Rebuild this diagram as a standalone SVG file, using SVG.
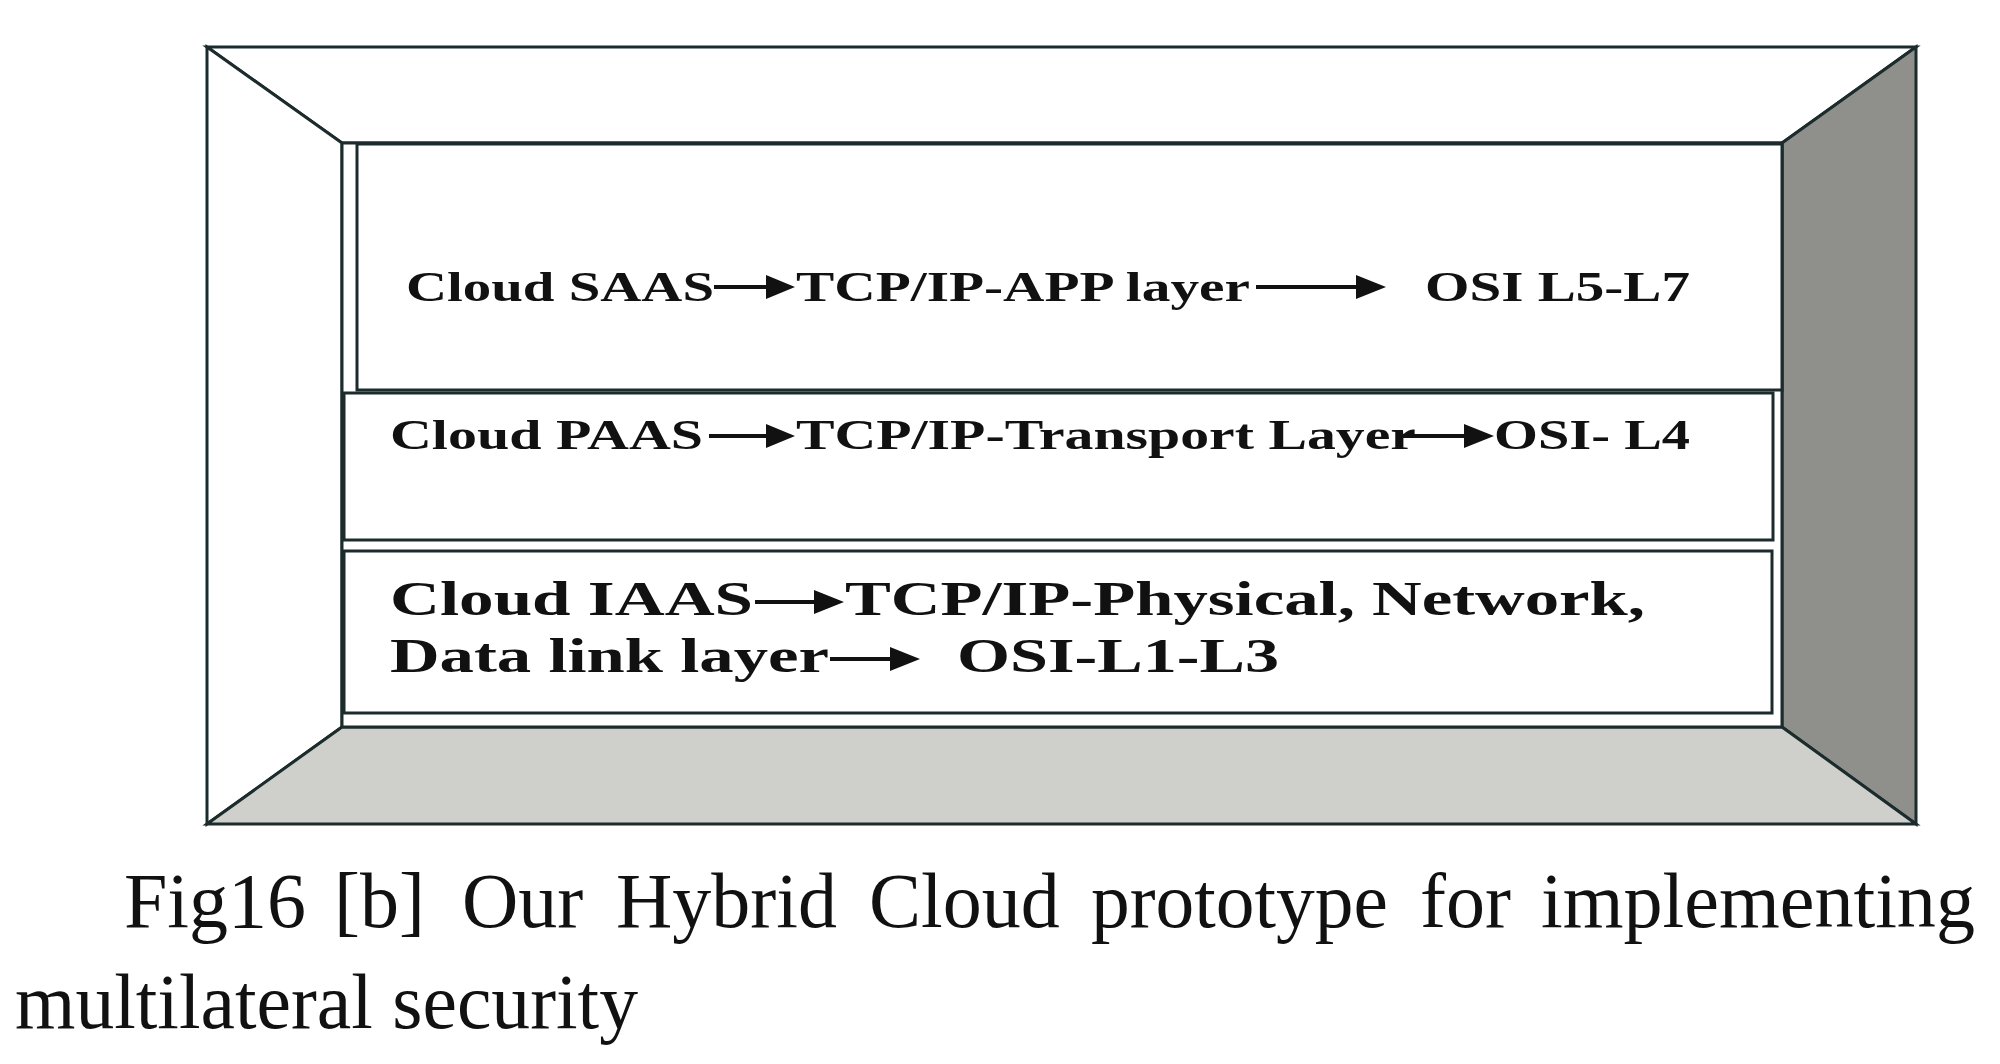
<svg xmlns="http://www.w3.org/2000/svg" width="2000" height="1064" viewBox="0 0 2000 1064">
<defs>
<style>
.edge{stroke:#1c2b2c;stroke-width:3;stroke-linejoin:miter}
.box{fill:#fff;stroke:#1c2b2c;stroke-width:3}
.lbl{font-family:"Liberation Serif","Times New Roman",serif;font-weight:bold;fill:#111;}
.cap{font-family:"Liberation Serif","Times New Roman",serif;font-size:78px;fill:#111;}
.arr{stroke:#111;stroke-width:4;fill:none}
.head{fill:#111}
</style>
</defs>
<rect width="2000" height="1064" fill="#fff"/>
<g id="frame">
<polygon class="edge" fill="#fff" points="207,47 1916,47 1782,143 342,143"/>
<polygon class="edge" fill="#fff" points="207,47 342,143 342,727 207,824"/>
<polygon class="edge" fill="#8f908c" points="1916,47 1916,824 1782,727 1782,143"/>
<polygon class="edge" fill="#cfd0cc" points="207,824 342,727 1782,727 1916,824"/>
<rect class="edge" fill="#fff" x="342" y="143" width="1440" height="584"/>
</g>
<g id="saas">
<rect class="box" x="357" y="144" width="1425" height="246"/>
</g>
<g id="paas">
<rect class="box" x="344" y="393" width="1429" height="147"/>
</g>
<g id="iaas">
<rect class="box" x="344" y="551" width="1428" height="162"/>
</g>
<g id="labels">
<text class="lbl" font-size="43" x="406" y="301" textLength="308" lengthAdjust="spacingAndGlyphs">Cloud SAAS</text>
<text class="lbl" font-size="43" x="796" y="301" textLength="454" lengthAdjust="spacingAndGlyphs">TCP/IP-APP layer</text>
<text class="lbl" font-size="43" x="1425" y="301" textLength="265" lengthAdjust="spacingAndGlyphs">OSI L5-L7</text>
<text class="lbl" font-size="43" x="390" y="449" textLength="313" lengthAdjust="spacingAndGlyphs">Cloud PAAS</text>
<text class="lbl" font-size="43" x="796" y="449" textLength="620" lengthAdjust="spacingAndGlyphs">TCP/IP-Transport Layer</text>
<text class="lbl" font-size="43" x="1494" y="449" textLength="196" lengthAdjust="spacingAndGlyphs">OSI- L4</text>
<text class="lbl" font-size="49" x="390" y="615" textLength="363" lengthAdjust="spacingAndGlyphs">Cloud IAAS</text>
<text class="lbl" font-size="49" x="845" y="615" textLength="800" lengthAdjust="spacingAndGlyphs">TCP/IP-Physical, Network,</text>
<text class="lbl" font-size="49" x="390" y="672" textLength="439" lengthAdjust="spacingAndGlyphs">Data link layer</text>
<text class="lbl" font-size="49" x="957" y="672" textLength="322" lengthAdjust="spacingAndGlyphs">OSI-L1-L3</text>
</g>
<g id="connectors">
<line class="arr" x1="714" y1="287" x2="770" y2="287"/>
<polygon class="head" points="766,275 795,287 766,299"/>
<line class="arr" x1="1256" y1="287" x2="1360" y2="287"/>
<polygon class="head" points="1356,275 1386,287 1356,299"/>
<line class="arr" x1="709" y1="436" x2="770" y2="436"/>
<polygon class="head" points="766,424 795,436 766,448"/>
<line class="arr" x1="1400" y1="436" x2="1468" y2="436"/>
<polygon class="head" points="1464,424 1494,436 1464,448"/>
<line class="arr" x1="755" y1="602" x2="818" y2="602"/>
<polygon class="head" points="814,590 844,602 814,614"/>
<line class="arr" x1="830" y1="659" x2="894" y2="659"/>
<polygon class="head" points="890,647 920,659 890,671"/>
</g>
<g id="caption">
<text class="cap" x="124" y="927" textLength="182" lengthAdjust="spacingAndGlyphs">Fig16</text>
<text class="cap" x="334" y="927">[b]</text>
<text class="cap" x="462" y="927">Our</text>
<text class="cap" x="616" y="927">Hybrid</text>
<text class="cap" x="869" y="927">Cloud</text>
<text class="cap" x="1091" y="927" textLength="297" lengthAdjust="spacingAndGlyphs">prototype</text>
<text class="cap" x="1420" y="927">for</text>
<text class="cap" x="1541" y="927" textLength="434" lengthAdjust="spacingAndGlyphs">implementing</text>
<text class="cap" x="15" y="1028" textLength="623" lengthAdjust="spacingAndGlyphs">multilateral security</text>
</g>
</svg>
